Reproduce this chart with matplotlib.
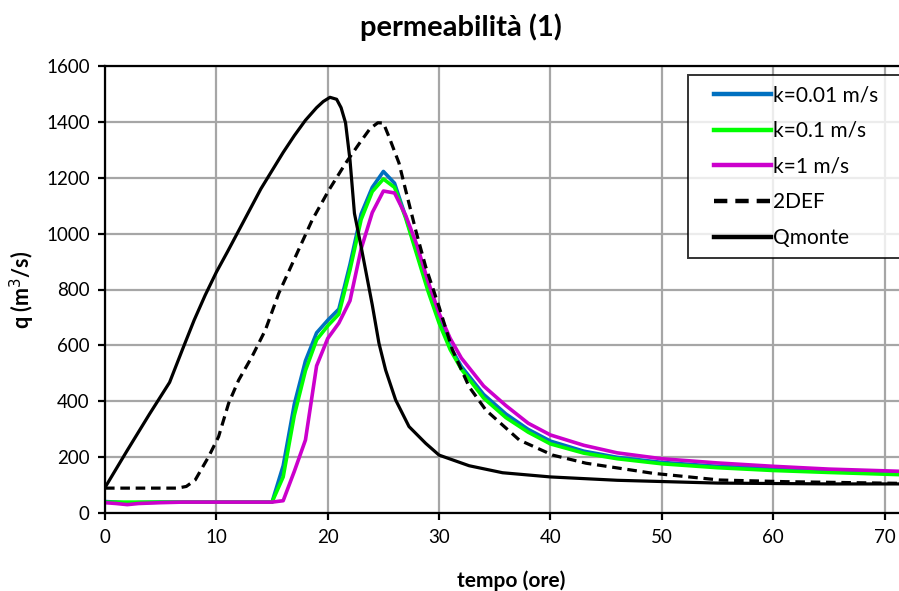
import numpy as np
import matplotlib
matplotlib.use("Agg")
import matplotlib.pyplot as plt
from matplotlib.lines import Line2D
from matplotlib.legend_handler import HandlerLine2D

plt.rcParams['font.family'] = ['Lato', 'DejaVu Sans']

# k series share one time axis (ore)
t_k = [0, 1, 2, 3, 5, 7, 10, 15, 16, 17, 18, 19, 20, 21, 22, 23, 24, 25, 26, 27,
       28, 29, 30, 31, 32, 34, 36, 38, 40, 43, 46, 50, 55, 60, 65, 71.5]
q_k001 = [42, 40, 36, 38, 40, 40, 40, 40, 170, 390, 545, 645, 690, 730, 890, 1070, 1165, 1222, 1180, 1060,
          935, 805, 690, 595, 525, 425, 355, 300, 258, 222, 200, 182, 168, 160, 153, 145]
q_k01 = [40, 40, 40, 40, 40, 40, 40, 40, 130, 350, 510, 620, 670, 712, 870, 1050, 1150, 1195, 1165, 1055,
         925, 795, 680, 585, 515, 412, 342, 290, 248, 215, 195, 177, 163, 153, 146, 138]
q_k1 = [38, 35, 31, 35, 38, 40, 40, 40, 45, 150, 262, 527, 625, 680, 760, 945, 1075, 1152, 1145, 1065,
        960, 830, 715, 625, 555, 455, 385, 322, 280, 243, 216, 195, 180, 168, 158, 150]

t_2def = [0, 6.5, 7.3, 8.1, 9.3, 10.2, 11.1, 12.0, 13.2, 14.4, 15.6, 17.1, 18.6, 20.1, 21.6, 22.8, 23.8,
          24.5, 25.0, 25.5, 26.4, 27.0, 27.9, 28.8, 30.0, 31.2, 32.7, 34.2, 37.2, 40.2, 43.2, 49.2, 55.2,
          61.2, 71.5]
q_2def = [90, 90, 96, 119, 202, 274, 393, 476, 560, 655, 786, 917, 1048, 1155, 1251, 1320, 1375,
          1396, 1395, 1346, 1252, 1155, 1012, 881, 738, 584, 452, 369, 262, 208, 179, 143, 119,
          113, 107]

t_monte = [0, 2, 4, 5.8, 7, 8, 9, 10, 11, 12, 13, 14, 15, 16, 17, 18, 19, 19.6, 20.2, 20.8, 21.2,
           21.6, 22.0, 22.4, 23.0, 24.0, 24.6, 25.2, 26.1, 27.3, 28.8, 30.0, 32.7, 35.7, 40.0, 46.0,
           55.0, 65.0, 71.5]
q_monte = [92, 225, 355, 468, 590, 690, 780, 862, 935, 1010, 1085, 1160, 1225, 1290, 1350, 1405, 1450,
           1472, 1487, 1480, 1450, 1396, 1263, 1072, 953, 745, 608, 512, 405, 310, 250, 208, 170, 145,
           130, 118, 108, 105, 105]

fig = plt.figure(figsize=(8.99, 5.91), dpi=100)
ax = fig.add_axes([105 / 899, 1 - 513.3 / 591, 1 - 105 / 899, (513.3 - 65.7) / 591])

ax.plot(t_k, q_k001, color='#0070C0', lw=2.6, label='k=0.01 m/s')
ax.plot(t_k, q_k01, color='#00FF00', lw=2.6, label='k=0.1 m/s')
ax.plot(t_k, q_k1, color='#CC00CC', lw=2.6, label='k=1 m/s')
ax.plot(t_2def, q_2def, color='black', lw=2.3, ls=(0, (3, 1.8)), label='2DEF')
ax.plot(t_monte, q_monte, color='black', lw=2.3, label='Qmonte')

ax.set_xlim(0, 71.3)
ax.set_ylim(0, 1600)
ax.set_xticks(np.arange(0, 71, 10))
ax.set_yticks(np.arange(0, 1601, 200))
ax.grid(True, color='#A6A6A6', lw=1.6)
ax.set_axisbelow(True)
for s in ['left', 'bottom', 'top']:
    ax.spines[s].set_linewidth(1.6)
ax.spines['right'].set_visible(False)
ax.tick_params(direction='out', length=5, width=1.6, labelsize=13.5, pad=6)

# title centred on the original chart area, not on the axes
fig.text(460.5 / 899, 1 - 27 / 591, 'permeabilità (1)', fontsize=21, fontweight='bold',
         ha='center', va='center')
ax.set_xlabel('tempo (ore)', fontsize=15, fontweight='bold')
ax.xaxis.set_label_coords((511 - 105) / 794, -0.128)
ax.set_ylabel('q (m$^3$/s)', fontsize=15.5, fontweight='bold')
ax.yaxis.set_label_coords(-0.086, 0.5)

leg = ax.legend(loc='upper left', bbox_to_anchor=(688 / 899, 1 - 75 / 591, 0.3, 0),
                bbox_transform=fig.transFigure, mode='expand', fontsize=15, frameon=True,
                fancybox=False, handlelength=3.5, handletextpad=0.08,
                labelspacing=0.76, borderpad=0.48, borderaxespad=0,
                handler_map={Line2D: HandlerLine2D(xpad=0.75)})
leg.get_frame().set_edgecolor('black')
leg.get_frame().set_linewidth(1.4)
for h in leg.get_lines():
    h.set_linewidth(3.2)

fig.savefig('out.png', dpi=100)
